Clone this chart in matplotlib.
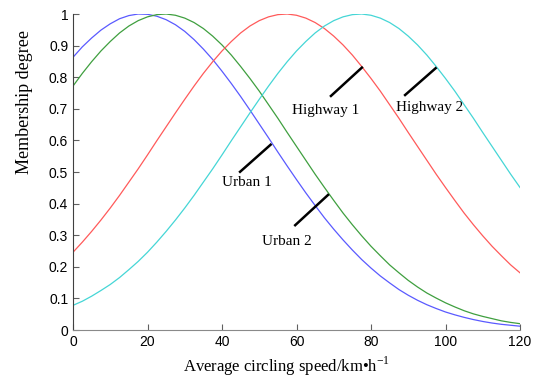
# Membership functions for average circling speed (urban / highway)
import matplotlib
matplotlib.use("Agg")
import matplotlib.pyplot as plt

plt.rcParams["mathtext.fontset"] = "custom"
plt.rcParams["mathtext.rm"] = "Liberation Serif"

# ------------------------------
# DATA
# ------------------------------
speed = [0, 2.5, 5, 7.5, 10, 12.5, 15, 17.5, 20, 22.5, 25, 27.5, 30, 32.5,
         35, 37.5, 40, 42.5, 45, 47.5, 50, 52.5, 55, 57.5, 60, 62.5, 65,
         67.5, 70, 72.5, 75, 77.5, 80, 82.5, 85, 87.5, 90, 92.5, 95, 97.5,
         100, 102.5, 105, 107.5, 110, 112.5, 115, 117.5, 120]

urban1 = [0.863, 0.896, 0.924, 0.949, 0.969, 0.985, 0.995, 1.000, 0.999,
          0.993, 0.982, 0.966, 0.945, 0.919, 0.889, 0.856, 0.819, 0.780,
          0.739, 0.696, 0.652, 0.608, 0.563, 0.519, 0.476, 0.434, 0.394,
          0.355, 0.319, 0.285, 0.253, 0.223, 0.196, 0.171, 0.149, 0.128,
          0.110, 0.094, 0.080, 0.068, 0.057, 0.048, 0.040, 0.033, 0.027,
          0.022, 0.018, 0.015, 0.012]
urban2 = [0.772, 0.812, 0.849, 0.883, 0.913, 0.940, 0.962, 0.979, 0.991,
          0.998, 1.000, 0.996, 0.987, 0.973, 0.954, 0.930, 0.902, 0.870,
          0.834, 0.796, 0.756, 0.713, 0.670, 0.625, 0.581, 0.537, 0.493,
          0.451, 0.410, 0.370, 0.333, 0.298, 0.265, 0.235, 0.206, 0.181,
          0.157, 0.136, 0.117, 0.101, 0.086, 0.073, 0.061, 0.051, 0.043,
          0.036, 0.029, 0.024, 0.020]
highway1 = [0.246, 0.278, 0.312, 0.348, 0.386, 0.426, 0.468, 0.510, 0.554,
            0.599, 0.643, 0.687, 0.730, 0.772, 0.812, 0.849, 0.883, 0.913,
            0.940, 0.962, 0.979, 0.991, 0.998, 1.000, 0.996, 0.987, 0.973,
            0.954, 0.930, 0.902, 0.870, 0.834, 0.796, 0.756, 0.713, 0.670,
            0.625, 0.581, 0.537, 0.493, 0.451, 0.410, 0.370, 0.333, 0.298,
            0.265, 0.235, 0.206, 0.181]
highway2 = [0.078, 0.091, 0.107, 0.125, 0.144, 0.166, 0.191, 0.217, 0.246,
            0.278, 0.312, 0.348, 0.386, 0.426, 0.468, 0.510, 0.554, 0.599,
            0.643, 0.687, 0.730, 0.772, 0.812, 0.849, 0.883, 0.913, 0.940,
            0.962, 0.979, 0.991, 0.998, 1.000, 0.996, 0.987, 0.973, 0.954,
            0.930, 0.902, 0.870, 0.834, 0.796, 0.756, 0.713, 0.670, 0.625,
            0.581, 0.537, 0.493, 0.451]

labels = ["Urban 1", "Urban 2", "Highway 1", "Highway 2"]
# leader line (start, end on curve) and label centre, in data units
leader_start = [(44.6, 0.498), (59.4, 0.329), (69.0, 0.738), (88.9, 0.741)]
leader_end = [(53.3, 0.589), (68.7, 0.430), (77.8, 0.833), (97.6, 0.831)]
label_pos = [(46.6, 0.467), (57.4, 0.280), (67.9, 0.696), (95.8, 0.704)]

colors = ["#5a5aff", "#3f9f3f", "#ff5a5a", "#45d6d6"]

# ------------------------------
# PLOT
# ------------------------------
fig = plt.figure(figsize=(5.37, 3.78), dpi=100)
ax = fig.add_axes([73 / 537, 1 - 330 / 378, 447 / 537, 316 / 378])

for series, c in zip([urban1, urban2, highway1, highway2], colors):
    ax.plot(speed, series, color=c, lw=0.9)

for name, s, e, p in zip(labels, leader_start, leader_end, label_pos):
    ax.plot([s[0], e[0]], [s[1], e[1]], color="black", lw=1.8,
            solid_capstyle="butt")
    ax.text(p[0], p[1], name, ha="center", va="center",
            family="Liberation Serif", fontsize=11)

ax.set_xlim(0, 120)
ax.set_ylim(0, 1)
ax.set_xticks(range(0, 121, 20))
ax.set_yticks([i / 10 for i in range(11)])
ax.set_yticklabels(["0", "0.1", "0.2", "0.3", "0.4", "0.5", "0.6",
                    "0.7", "0.8", "0.9", "1"])

ax.spines["top"].set_visible(False)
ax.spines["right"].set_visible(False)
ax.spines["left"].set_color("#404040")
ax.spines["bottom"].set_color("#8a8a8a")
ax.tick_params(direction="in", length=4, width=0.8, colors="#606060",
               labelcolor="black", labelsize=10)
for lab in ax.get_xticklabels() + ax.get_yticklabels():
    lab.set_family("Liberation Sans")

ax.set_xlabel("Average circling speed/km•h$^{\\mathregular{-1}}$",
              family="Liberation Serif", fontsize=12)
ax.set_ylabel("Membership degree", family="Liberation Serif", fontsize=13)
ax.xaxis.set_label_coords(0.477, -0.078)
ax.xaxis.label.set_va("top")
ax.yaxis.set_label_coords(-0.09, 0.72)

fig.savefig("out.png", dpi=100)
